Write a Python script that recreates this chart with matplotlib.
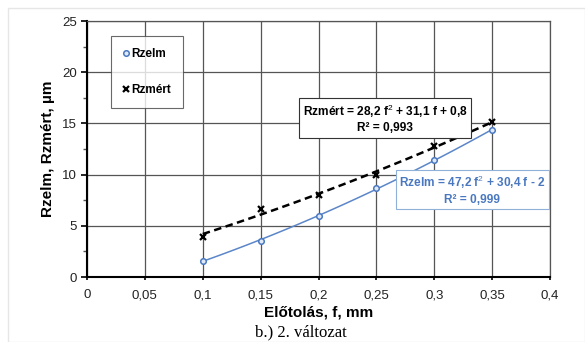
import numpy as np
import matplotlib
matplotlib.use("Agg")
import matplotlib.pyplot as plt
from matplotlib.ticker import MultipleLocator, FuncFormatter
from matplotlib.patches import Rectangle

f = [0.10, 0.15, 0.20, 0.25, 0.30, 0.35]
rzelm = [1.6, 3.55, 5.95, 8.65, 11.45, 14.35]
rzmert = [3.95, 6.6, 8.05, 9.95, 12.8, 15.15]
x_ticks = [0, 0.05, 0.1, 0.15, 0.2, 0.25, 0.3, 0.35, 0.4]
y_ticks = [0, 5, 10, 15, 20, 25]
eq_mert = "Rzmért = 28,2 f$^2$ + 31,1 f + 0,8\nR² = 0,993"
eq_elm = "Rzelm = 47,2 f$^2$ + 30,4 f - 2\nR² = 0,999"

plt.rcParams['font.family'] = ['Liberation Sans', 'DejaVu Sans']
plt.rcParams['mathtext.fontset'] = 'custom'
plt.rcParams['mathtext.rm'] = 'Liberation Sans'
plt.rcParams['mathtext.bf'] = 'Liberation Sans:bold'

fig = plt.figure(figsize=(5.85, 3.42), dpi=100)
fig.patches.append(Rectangle((8/585, 0), 1 - 8/585, 1 - 8/342, transform=fig.transFigure,
                             fill=False, edgecolor='#e6e6e6', linewidth=1))
ax = fig.add_axes([87/585, 1 - 277/342, (550-87)/585, (277-21)/342])

blue = '#4a78c0'
fx = np.linspace(min(f), max(f), 100)
c_elm = np.polyfit(f, rzelm, 2)
c_mert = np.polyfit(f, rzmert, 2)
ax.plot(fx, np.polyval(c_mert, fx), color='black', lw=1.8, ls=(0, (3, 1.8)), zorder=3)
ax.plot(fx, np.polyval(c_elm, fx), color='#5b86c8', lw=1.1, zorder=3)
ax.plot(f, rzelm, 'o', ms=4, mfc='#dfe8f5', mec=blue, mew=1.1, label='Rzelm', zorder=4)
ax.plot(f, rzmert, 'x', ms=5, color='black', mew=1.6, label='Rzmért', zorder=4)

ax.set_xlim(0, 0.4)
ax.set_ylim(0, 25)
ax.set_xticks(x_ticks)
ax.set_yticks(y_ticks)
ax.yaxis.set_minor_locator(MultipleLocator(2.5))
fmt = FuncFormatter(lambda v, p: ('%g' % v).replace('.', ','))
ax.xaxis.set_major_formatter(fmt)
ax.yaxis.set_major_formatter(fmt)
ax.grid(True, which='major', color='#555555', lw=0.9)
ax.set_axisbelow(True)
for s in ['top', 'right']:
    ax.spines[s].set_color('#555555')
    ax.spines[s].set_linewidth(0.9)
for s in ['left', 'bottom']:
    ax.spines[s].set_color('black')
    ax.spines[s].set_linewidth(1.5)
ax.tick_params(axis='both', which='major', labelsize=9.5, length=4, width=1.2, direction='out',
               color='black', pad=3, labelcolor='#222222')
ax.tick_params(axis='y', which='minor', length=3, width=1, color='#555555')
ax.tick_params(axis='x', which='major', length=2, pad=7)

ax.set_xlabel('Előtolás, f, mm', fontsize=11, fontweight='bold', labelpad=3)
ax.set_ylabel('Rzelm, Rzmért, µm', fontsize=11, fontweight='bold', labelpad=5)

leg = ax.legend(loc='upper left', bbox_to_anchor=(0.052, 0.941), frameon=True, fancybox=False,
                edgecolor='#444444', handlelength=0.45, handletextpad=0.3,
                labelspacing=2.05, borderpad=1.0, borderaxespad=0,
                prop={'weight': 'bold', 'size': 8.5})
leg.get_frame().set_linewidth(0.8)

ax.text(0.2575, 15.48, eq_mert, ha='center', va='center', fontsize=8.6, fontweight='bold',
        color='black', linespacing=1.25,
        bbox=dict(boxstyle='square,pad=0.3', fc='white', ec='#333333', lw=0.8), zorder=5)
ax.text(0.333, 8.5, eq_elm, ha='center', va='center', fontsize=8.6, fontweight='bold',
        color=blue, linespacing=1.25,
        bbox=dict(boxstyle='square,pad=0.3', fc='white', ec='#8fb0d8', lw=0.8), zorder=5)

fig.text(301/585, 1 - 332/342, 'b.) 2. változat', ha='center', va='center',
         fontsize=12, family=['Liberation Serif', 'DejaVu Serif'])

fig.savefig('out.png', dpi=100)
